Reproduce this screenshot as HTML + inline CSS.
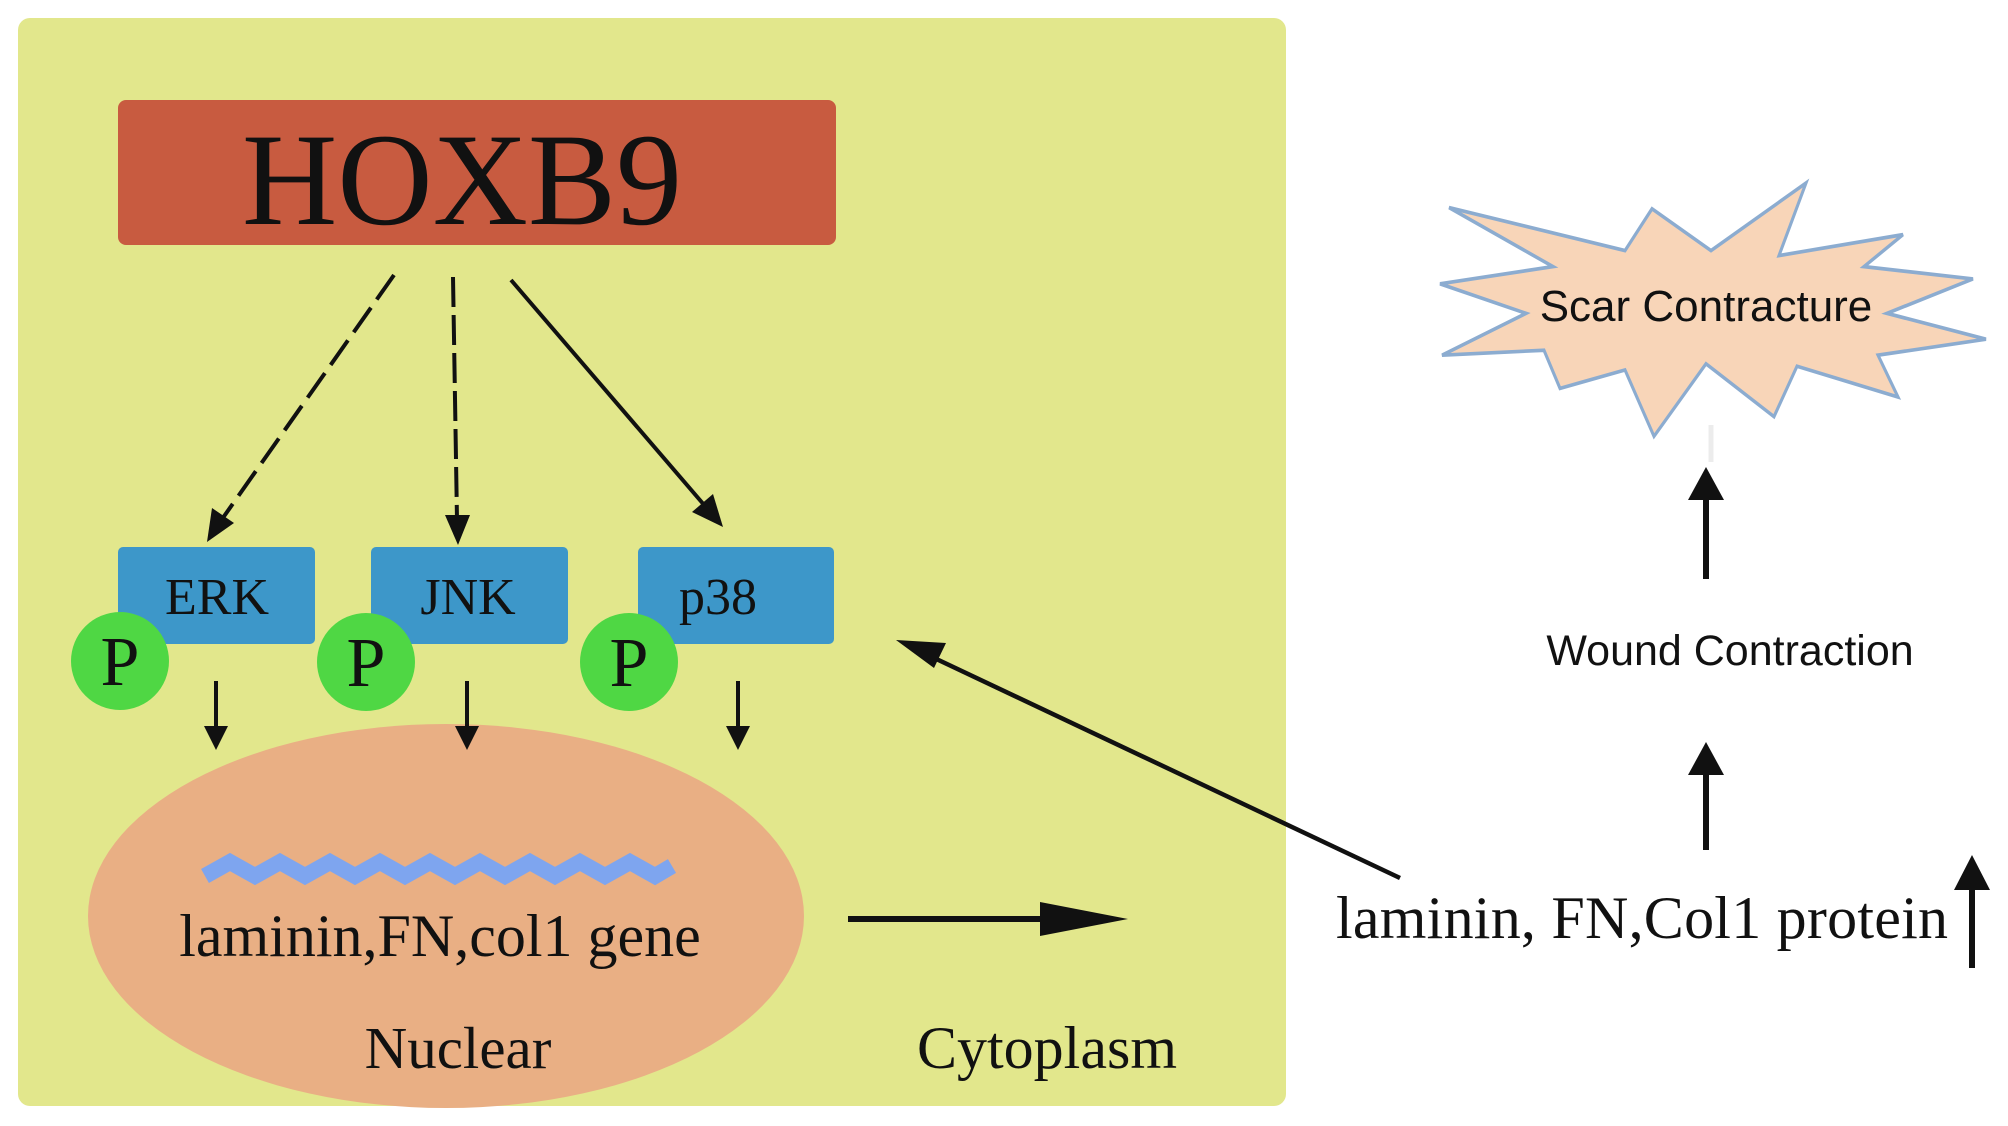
<!DOCTYPE html>
<html><head><meta charset="utf-8"><style>
html,body{margin:0;padding:0;background:#fff;}
svg{display:block;}
</style></head><body>
<svg width="2008" height="1126" viewBox="0 0 2008 1126" xmlns="http://www.w3.org/2000/svg">
<rect x="18" y="18" width="1268" height="1088" rx="12" fill="#e2e78c"/>
<rect x="118" y="100" width="718" height="145" rx="8" fill="#c85b40"/>
<text x="462" y="224" font-family="Liberation Serif, serif" font-size="132" text-anchor="middle" fill="#111">HOXB9</text>

<!-- arrows from HOXB9 -->
<line x1="394" y1="275" x2="220" y2="522" stroke="#111" stroke-width="4" stroke-dasharray="30,10"/>
<polygon points="207,542 212,508 234,523" fill="#111"/>
<line x1="453" y1="277" x2="457" y2="520" stroke="#111" stroke-width="4" stroke-dasharray="30,8"/>
<polygon points="458,545 445,515 470,515" fill="#111"/>
<line x1="511" y1="280" x2="705" y2="506" stroke="#111" stroke-width="4"/>
<polygon points="723,527 692,512 713,494" fill="#111"/>

<!-- kinase boxes -->
<rect x="118" y="547" width="197" height="97" rx="5" fill="#3d97c9"/>
<rect x="371" y="547" width="197" height="97" rx="5" fill="#3d97c9"/>
<rect x="638" y="547" width="196" height="97" rx="5" fill="#3d97c9"/>
<text x="217" y="614" font-family="Liberation Serif, serif" font-size="52" text-anchor="middle" fill="#111">ERK</text>
<text x="468" y="614" font-family="Liberation Serif, serif" font-size="52" text-anchor="middle" fill="#111">JNK</text>
<text x="718" y="614" font-family="Liberation Serif, serif" font-size="52" text-anchor="middle" fill="#111">p38</text>
<g font-family="Liberation Serif, serif" font-size="70" text-anchor="middle" fill="#111">
<circle cx="120" cy="661" r="49" fill="#4fd744"/><text x="120" y="685">P</text>
<circle cx="366" cy="662" r="49" fill="#4fd744"/><text x="366" y="686">P</text>
<circle cx="629" cy="662" r="49" fill="#4fd744"/><text x="629" y="686">P</text>
</g>

<!-- nucleus -->
<ellipse cx="446" cy="916" rx="358" ry="192" fill="#e9af84"/>
<polyline points="205,876 230,862 255,876 280,862 305,876 330,862 355,876 380,862 405,876 430,862 455,876 480,862 505,876 530,862 555,876 580,862 605,876 630,862 655,876 672,866" fill="none" stroke="#7ea5ef" stroke-width="16" stroke-linejoin="miter"/>
<text x="440" y="956" font-family="Liberation Serif, serif" font-size="60" text-anchor="middle" fill="#111">laminin,FN,col1 gene</text>
<text x="458" y="1068" font-family="Liberation Serif, serif" font-size="59" text-anchor="middle" fill="#111">Nuclear</text>
<text x="1047" y="1068" font-family="Liberation Serif, serif" font-size="60" text-anchor="middle" fill="#111">Cytoplasm</text>

<!-- small arrows (on top of ellipse) -->
<g stroke="#111" stroke-width="4">
<line x1="216" y1="681" x2="216" y2="730"/><line x1="467" y1="681" x2="467" y2="730"/><line x1="738" y1="681" x2="738" y2="730"/>
</g>
<g fill="#111">
<polygon points="204,726 228,726 216,750"/><polygon points="455,726 479,726 467,750"/><polygon points="726,726 750,726 738,750"/>
</g>

<!-- export arrow -->
<line x1="848" y1="919" x2="1060" y2="919" stroke="#111" stroke-width="6"/>
<polygon points="1128,919 1040,902 1040,936" fill="#111"/>

<!-- long arrow -->
<line x1="1400" y1="878" x2="930" y2="656" stroke="#111" stroke-width="4.5"/>
<polygon points="896,640 946,643 934,668" fill="#111"/>

<!-- star -->
<polygon transform="matrix(1,0,0,1.23,0,-37.2)" points="1449,199 1625,234 1652,200 1711,234 1806,179 1779,238 1903,221 1864,247 1973,257 1887,285 1986,306 1878,319 1898,353 1797,328 1774,369 1706,326 1654,385 1625,331 1560,346 1544,315 1442,319 1526,285 1440,261 1553,247" fill="#f8d5b8" stroke="#8cacd0" stroke-width="3" stroke-linejoin="miter"/>
<text x="1706" y="321" font-family="Liberation Sans, sans-serif" font-size="44" text-anchor="middle" fill="#111">Scar Contracture</text>
<line x1="1711" y1="425" x2="1711" y2="462" stroke="#ececec" stroke-width="5"/>

<!-- right arrows -->
<line x1="1706" y1="495" x2="1706" y2="579" stroke="#111" stroke-width="6"/>
<polygon points="1706,467 1688,500 1724,500" fill="#111"/>
<text x="1730" y="665" font-family="Liberation Sans, sans-serif" font-size="43" text-anchor="middle" fill="#111">Wound Contraction</text>
<line x1="1706" y1="770" x2="1706" y2="850" stroke="#111" stroke-width="6"/>
<polygon points="1706,742 1688,775 1724,775" fill="#111"/>
<text x="1336" y="938" font-family="Liberation Serif, serif" font-size="60" fill="#111" textLength="612">laminin, FN,Col1 protein</text>
<line x1="1972" y1="885" x2="1972" y2="968" stroke="#111" stroke-width="6"/>
<polygon points="1972,855 1954,890 1990,890" fill="#111"/>
</svg>
</body></html>
